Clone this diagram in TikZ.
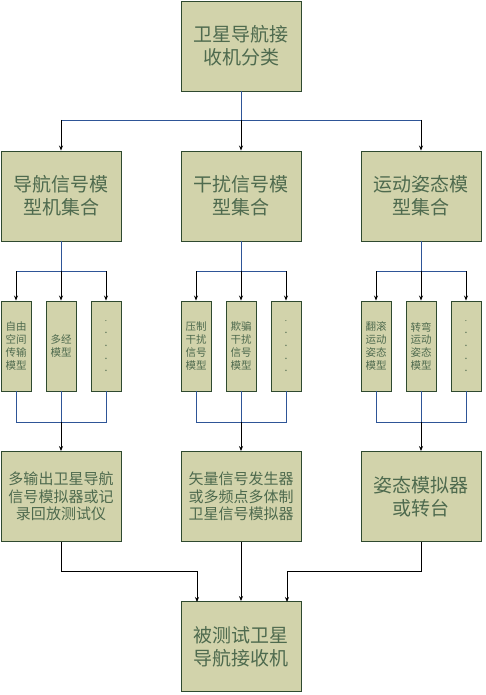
\documentclass[tikz,border=0pt]{standalone}
\usepackage{fontspec}
\newfontfamily\cjk{Noto Sans CJK SC}
\usetikzlibrary{arrows.meta}
\definecolor{boxfill}{HTML}{D2D3AB}
\definecolor{boxline}{HTML}{2F4A2F}
\definecolor{txt}{HTML}{4E6A4E}
\definecolor{tree}{HTML}{2E5597}
\begin{document}
\begin{tikzpicture}[x=1pt,y=-1pt,
  box/.style={draw=boxline,fill=boxfill,line width=0.9pt,inner sep=0pt,text=txt,align=center},
  bigbox/.style={box,minimum width=120pt,minimum height=90pt},
  smallbox/.style={box,minimum width=30pt,minimum height=90pt,font=\cjk\fontsize{10.5}{12.7}\selectfont},
  fbig/.style={font=\cjk\fontsize{19}{23}\selectfont},
  fmid/.style={font=\cjk\fontsize{15}{17.5}\selectfont},
  treeline/.style={draw=tree,line width=0.8pt},
  arr/.style={draw=black,line width=0.8pt,-{Stealth[length=5pt,width=4pt]}},
  plain/.style={draw=black,line width=0.8pt}]
\useasboundingbox (0,0) rectangle (485,695);
% top
\node[bigbox,fbig] (top) at (241,46) {卫星导航接\\收机分类};
% row 2
\node[bigbox,fbig] (a) at (61,196) {导航信号模\\型机集合};
\node[bigbox,fbig] (b) at (241,196) {干扰信号模\\型集合};
\node[bigbox,fbig] (c) at (421,196) {运动姿态模\\型集合};
% small boxes
\node[smallbox] (a1) at (16,346) {自由\\空间\\传输\\模型};
\node[smallbox] (a2) at (61,346) {多经\\模型};
\node[smallbox] (a3) at (106,346) {\fontsize{8}{10}\selectfont .\\.\\.\\.\\.};
\node[smallbox] (b1) at (196,346) {压制\\干扰\\信号\\模型};
\node[smallbox] (b2) at (241,346) {欺骗\\干扰\\信号\\模型};
\node[smallbox] (b3) at (286,346) {\fontsize{8}{10}\selectfont .\\.\\.\\.\\.};
\node[smallbox] (c1) at (376,346) {翻滚\\运动\\姿态\\模型};
\node[smallbox] (c2) at (421,346) {转弯\\运动\\姿态\\模型};
\node[smallbox] (c3) at (466,346) {\fontsize{8}{10}\selectfont .\\.\\.\\.\\.};
% row 3
\node[bigbox,fmid] (d) at (61,496.5) {多输出卫星导航\\信号模拟器或记\\录回放测试仪};
\node[bigbox,fmid] (e) at (241,496.5) {矢量信号发生器\\或多频点多体制\\卫星信号模拟器};
\node[bigbox,fbig] (f) at (421,496.5) {姿态模拟器\\或转台};
% bottom
\node[bigbox,fbig] (g) at (241,646.5) {被测试卫星\\导航接收机};
% coordinates
\coordinate (s0) at (241,120);
\coordinate (sa) at (61,271);
\coordinate (sb) at (241,271);
\coordinate (sc) at (421,271);
\coordinate (ja) at (61,422);
\coordinate (jb) at (241,422);
\coordinate (jc) at (421,422);
\coordinate (m0) at (241,571);
\coordinate (ml) at (197,602);
\coordinate (mr) at (287,602);
% top tree
\draw[treeline] (top.south) -- (s0);
\draw[treeline] (a.north |- s0) -- (c.north |- s0);
\draw[arr] (a.north |- s0) -- (a.north);
\draw[arr] (b.north |- s0) -- (b.north);
\draw[arr] (c.north |- s0) -- (c.north);
% groups
\foreach \p/\s/\j/\r in {a/sa/ja/d, b/sb/jb/e, c/sc/jc/f}{
  \draw[treeline] (\p.south) -- (\s);
  \draw[treeline] (\p1.north |- \s) -- (\p3.north |- \s);
  \draw[arr] (\p1.north |- \s) -- (\p1.north);
  \draw[arr] (\p2.north |- \s) -- (\p2.north);
  \draw[arr] (\p3.north |- \s) -- (\p3.north);
  \draw[treeline] (\p1.south) -- (\p1.south |- \j) -- (\p3.south |- \j) -- (\p3.south);
  \draw[treeline] (\p2.south) -- (\j);
  \draw[arr] (\j) -- (\r.north);
}
% bottom merge
\draw[plain] (d.south) -- (d.south |- m0) -- (ml |- m0);
\draw[arr] (ml |- m0) -- (ml);
\draw[arr] (e.south) -- (g.north);
\draw[plain] (f.south) -- (f.south |- m0) -- (mr |- m0);
\draw[arr] (mr |- m0) -- (mr);
\end{tikzpicture}
\end{document}
